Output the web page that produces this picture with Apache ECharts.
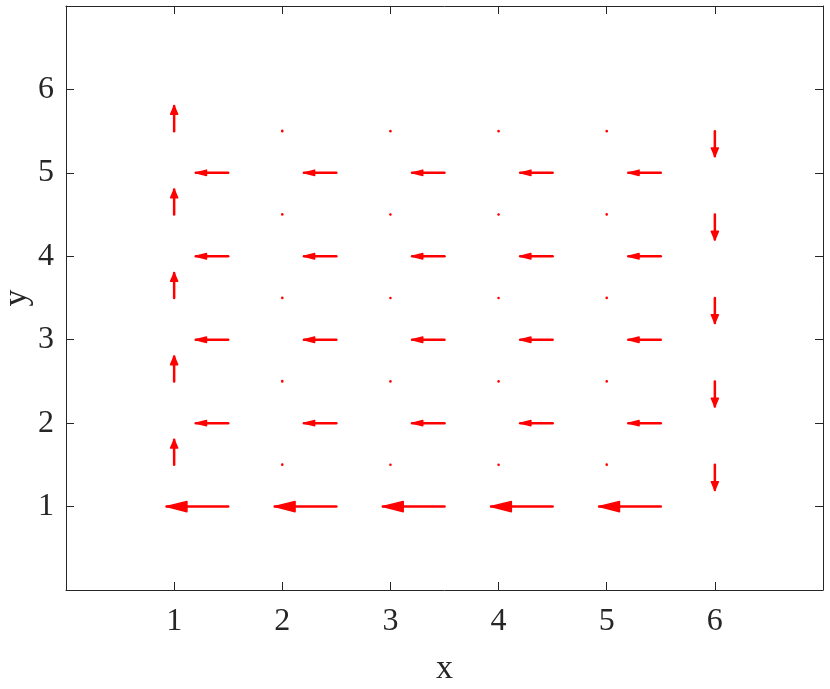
<!DOCTYPE html>
<html>
<head>
<meta charset="utf-8">
<script src="https://cdn.jsdelivr.net/npm/echarts@6/dist/echarts.min.js"></script>
<style>html,body{margin:0;padding:0;background:#fff;}#chart{width:830px;height:689px;}</style>
</head>
<body>
<div id="chart"></div>
<script>
// horizontal-component arrows (tail points and components)
var uX = [1.5, 2.5, 3.5, 4.5, 5.5];
var uY = [1, 2, 3, 4, 5];
var uVals = [
  [-0.57, -0.57, -0.57, -0.57, -0.57], // y = 1
  [-0.30, -0.30, -0.30, -0.30, -0.30], // y = 2
  [-0.30, -0.30, -0.30, -0.30, -0.30], // y = 3
  [-0.30, -0.30, -0.30, -0.30, -0.30], // y = 4
  [-0.30, -0.30, -0.30, -0.30, -0.30]  // y = 5
];
// vertical-component arrows
var vX = [1, 2, 3, 4, 5, 6];
var vY = [1.5, 2.5, 3.5, 4.5, 5.5];
var vVals = [
  [0.30, 0.004, 0.001, 0.001, 0.003, -0.30], // y = 1.5
  [0.30, 0.004, 0.001, 0.001, 0.003, -0.30], // y = 2.5
  [0.30, 0.004, 0.001, 0.001, 0.003, -0.30], // y = 3.5
  [0.30, 0.004, 0.001, 0.001, 0.003, -0.30], // y = 4.5
  [0.30, 0.004, 0.001, 0.001, 0.003, -0.30]  // y = 5.5
];
var xTicks = [1, 2, 3, 4, 5, 6];
var yTicks = [1, 2, 3, 4, 5, 6];

var arrows = [];
uY.forEach(function (y, j) {
  uX.forEach(function (x, i) { arrows.push([x, y, uVals[j][i], 0]); });
});
vY.forEach(function (y, j) {
  vX.forEach(function (x, i) { arrows.push([x, y, 0, vVals[j][i]]); });
});

var FONT = 'Liberation Serif';
var AX = '#262626';
var alpha = 0.33, beta = 0.33;

function renderArrow(params, api) {
  var x = api.value(0), y = api.value(1), u = api.value(2), v = api.value(3);
  var p0 = api.coord([x, y]);
  var p1 = api.coord([x + u, y + v]);
  var b1 = api.coord([x + u - alpha * (u + beta * v), y + v - alpha * (v - beta * u)]);
  var b2 = api.coord([x + u - alpha * (u - beta * v), y + v - alpha * (v + beta * u)]);
  var lineStyle = { stroke: '#ff0000', lineWidth: 2.5, lineCap: 'round', fill: null };
  var headStyle = { stroke: '#ff0000', lineWidth: 1.5, lineJoin: 'round', fill: '#ff0000' };
  return {
    type: 'group',
    children: [
      { type: 'line', shape: { x1: p0[0], y1: p0[1], x2: p1[0], y2: p1[1] }, style: lineStyle },
      { type: 'polygon', shape: { points: [b1, p1, b2] }, style: headStyle }
    ]
  };
}

function labelFmt(ticks) {
  return function (val) { return ticks.indexOf(val) >= 0 ? String(val) : ''; };
}

var chart = echarts.init(document.getElementById('chart'));
chart.setOption({
  animation: false,
  backgroundColor: '#ffffff',
  grid: { left: 66, right: 7, top: 6, bottom: 99, containLabel: false, outerBoundsMode: 'none' },
  xAxis: [{
    type: 'value', min: 0, max: 7, interval: 1, position: 'bottom',
    name: 'x', nameLocation: 'middle', nameGap: 62, nameMoveOverlap: false,
    nameTextStyle: { fontFamily: FONT, fontSize: 34, color: AX },
    axisLine: { show: true, onZero: false, lineStyle: { color: AX, width: 1 } },
    axisTick: { show: true, inside: true, length: 8, lineStyle: { color: AX } },
    axisLabel: { fontFamily: FONT, fontSize: 32, color: AX, margin: 16, formatter: labelFmt(xTicks) },
    splitLine: { show: false }
  }, {
    type: 'value', min: 0, max: 7, interval: 1, position: 'top',
    axisLine: { show: true, onZero: false, lineStyle: { color: AX, width: 1 } },
    axisTick: { show: true, inside: true, length: 8, lineStyle: { color: AX } },
    axisLabel: { show: false }, splitLine: { show: false }
  }],
  yAxis: [{
    type: 'value', min: 0, max: 7, interval: 1, position: 'left',
    name: 'y', nameLocation: 'middle', nameGap: 32, nameMoveOverlap: false,
    nameTextStyle: { fontFamily: FONT, fontSize: 34, color: AX },
    axisLine: { show: true, onZero: false, lineStyle: { color: AX, width: 1 } },
    axisTick: { show: true, inside: true, length: 8, lineStyle: { color: AX } },
    axisLabel: { fontFamily: FONT, fontSize: 32, color: AX, margin: 12, formatter: labelFmt(yTicks) },
    splitLine: { show: false }
  }, {
    type: 'value', min: 0, max: 7, interval: 1, position: 'right',
    axisLine: { show: true, onZero: false, lineStyle: { color: AX, width: 1 } },
    axisTick: { show: true, inside: true, length: 8, lineStyle: { color: AX } },
    axisLabel: { show: false }, splitLine: { show: false }
  }],
  series: [{
    type: 'custom',
    xAxisIndex: 0, yAxisIndex: 0,
    renderItem: renderArrow,
    data: arrows,
    clip: false
  }]
});
</script>
</body>
</html>
